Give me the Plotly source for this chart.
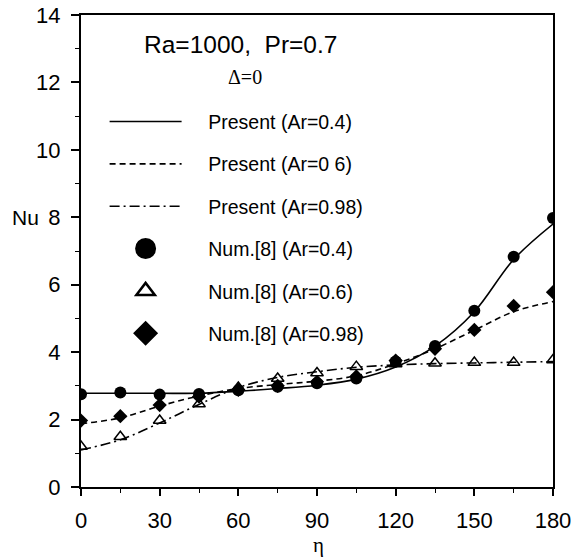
import plotly.graph_objects as go

# eta positions (deg)
eta = [0, 15, 30, 45, 60, 75, 90, 105, 120, 135, 150, 165, 180]

# Present results (curves)
present_ar04 = [2.78, 2.78, 2.78, 2.78, 2.84, 2.92, 3.02, 3.2, 3.56, 4.18, 5.2, 6.75, 7.8]
present_ar06 = [1.88, 2.05, 2.4, 2.7, 2.92, 3.04, 3.14, 3.3, 3.65, 4.1, 4.65, 5.2, 5.5]
present_ar098 = [1.1, 1.4, 1.9, 2.45, 2.95, 3.25, 3.42, 3.55, 3.62, 3.66, 3.68, 3.7, 3.72]

# Num.[8] results (markers)
num_ar04 = [2.75, 2.80, 2.74, 2.76, 2.87, 2.97, 3.08, 3.22, 3.72, 4.18, 5.23, 6.83, 7.98]
num_ar06 = [1.2, 1.49, 1.97, 2.46, 2.95, 3.22, 3.38, 3.57, 3.65, 3.67, 3.69, 3.69, 3.77]
num_ar098 = [1.97, 2.1, 2.43, 2.68, 2.88, 3.0, 3.12, 3.28, 3.75, 4.1, 4.66, 5.37, 5.78]

x_ticks = [0, 30, 60, 90, 120, 150, 180]
y_ticks = [0, 2, 4, 6, 8, 10, 12, 14]

SANS = "Liberation Sans, Arial, sans-serif"
SERIF = "Liberation Serif, Times New Roman, serif"
PAD = "\u00a0\u00a0\u00a0\u00a0"

fig = go.Figure()

line_specs = [
    ("Present (Ar=0.4)", present_ar04, "solid"),
    ("Present (Ar=0 6)", present_ar06, "6px,4px"),
    ("Present (Ar=0.98)", present_ar098, "10px,4px,2px,4px"),
]
for i, (name, ys, dash) in enumerate(line_specs):
    fig.add_trace(go.Scatter(
        x=eta, y=ys, mode="lines", name=PAD + name, legendgroup=f"g{i}",
        line=dict(color="black", width=1.6, dash=dash, shape="spline", smoothing=1.0),
        showlegend=True,
    ))

marker_specs = [
    ("Num.[8] (Ar=0.4)", num_ar04, "circle", 12, 0, 5),
    ("Num.[8] (Ar=0.6)", num_ar06, "triangle-up-open", 11, 1.5, 2.5),
    ("Num.[8] (Ar=0.98)", num_ar098, "diamond", 11, 0, 3),
]
for i, (name, ys, sym, size, lw, legend_lw) in enumerate(marker_specs):
    fig.add_trace(go.Scatter(
        x=eta, y=ys, mode="markers", name=name, showlegend=False,
        marker=dict(symbol=sym, size=size, color="black", line=dict(color="black", width=lw)),
    ))
    # legend proxy (no data drawn)
    fig.add_trace(go.Scatter(
        x=[None], y=[None], mode="markers", name=PAD + name, legendgroup=f"m{i}",
        marker=dict(symbol=sym, size=16, color="black", line=dict(color="black", width=legend_lw)),
        showlegend=True,
    ))

fig.update_layout(
    width=576, height=559,
    margin=dict(l=81, r=23, t=15, b=72, autoexpand=False),
    paper_bgcolor="white", plot_bgcolor="white",
    font=dict(family=SANS, color="black"),
    legend=dict(
        x=0.05, y=0.815, xanchor="left", yanchor="top",
        font=dict(family=SANS, size=19.5, color="black"),
        bgcolor="rgba(0,0,0,0)", borderwidth=0,
        traceorder="grouped", tracegroupgap=14, itemwidth=72,
    ),
    xaxis=dict(
        range=[0, 180], tickmode="array", tickvals=x_ticks, ticktext=[str(v) for v in x_ticks],
        ticks="outside", ticklen=7, tickwidth=1.5, tickcolor="black",
        minor=dict(dtick=15, ticks="outside", ticklen=4, tickwidth=1.2, tickcolor="black"),
        showline=True, linecolor="black", linewidth=2, mirror=True,
        showgrid=False, zeroline=False, automargin=False,
        tickfont=dict(family=SANS, size=22, color="black"), ticklabelstandoff=6,
    ),
    yaxis=dict(
        range=[0, 14], tickmode="array", tickvals=y_ticks, ticktext=[str(v) for v in y_ticks],
        ticks="outside", ticklen=8, tickwidth=1.5, tickcolor="black",
        minor=dict(dtick=1, ticks="outside", ticklen=4, tickwidth=1.2, tickcolor="black"),
        showline=True, linecolor="black", linewidth=2, mirror=True,
        showgrid=False, zeroline=False, automargin=False,
        tickfont=dict(family=SANS, size=22, color="black"), ticklabelstandoff=6,
    ),
    annotations=[
        dict(text="Ra=1000,  Pr=0.7", x=60.9, y=13.12, xref="x", yref="y", showarrow=False,
             font=dict(family=SANS, size=24.5, color="black")),
        dict(text="Δ=0", x=62.5, y=12.15, xref="x", yref="y", showarrow=False,
             font=dict(family=SERIF, size=20, color="black")),
        dict(text="Nu", x=0, y=8, xref="paper", yref="y", xanchor="center", xshift=-56,
             showarrow=False, font=dict(family=SANS, size=21, color="black")),
        dict(text="η", x=90.7, y=0, xref="x", yref="paper", yanchor="middle", yshift=-58,
             showarrow=False, font=dict(family=SERIF, size=21, color="black")),
    ],
)

fig.write_html("out.html")
